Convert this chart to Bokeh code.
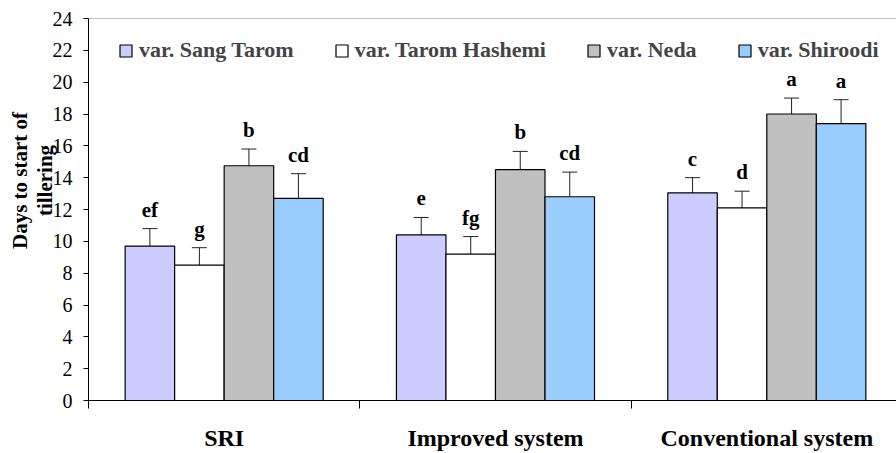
import math
from bokeh.plotting import figure
from bokeh.models import (ColumnDataSource, Range1d, FixedTicker, Whisker, TeeHead,
                          Legend, LegendItem, Label, Span)
from bokeh.core.properties import value
from bokeh.embed import file_html
from bokeh.resources import INLINE

systems = ["SRI", "Improved system", "Conventional system"]
varieties = ["var. Sang Tarom", "var. Tarom Hashemi", "var. Neda", "var. Shiroodi"]
colors = ["#CCCCFF", "#FFFFFF", "#C0C0C0", "#99CCFF"]
y_ticks = [0, 2, 4, 6, 8, 10, 12, 14, 16, 18, 20, 22, 24]

sang_tarom = [9.7, 10.4, 13.05]
sang_tarom_lo = [8.75, 9.45, 12.0]
sang_tarom_hi = [10.8, 11.5, 14.0]
sang_tarom_letters = ["ef", "e", "c"]

tarom_hashemi = [8.5, 9.2, 12.1]
tarom_hashemi_lo = [7.45, 8.1, 10.9]
tarom_hashemi_hi = [9.6, 10.3, 13.15]
tarom_hashemi_letters = ["g", "fg", "d"]

neda = [14.75, 14.5, 18.0]
neda_lo = [13.65, 13.3, 16.9]
neda_hi = [15.8, 15.65, 19.0]
neda_letters = ["b", "b", "a"]

shiroodi = [12.7, 12.8, 17.4]
shiroodi_lo = [11.25, 11.35, 15.8]
shiroodi_hi = [14.25, 14.35, 18.9]
shiroodi_letters = ["cd", "cd", "a"]

series = [
    (sang_tarom, sang_tarom_lo, sang_tarom_hi, sang_tarom_letters),
    (tarom_hashemi, tarom_hashemi_lo, tarom_hashemi_hi, tarom_hashemi_letters),
    (neda, neda_lo, neda_hi, neda_letters),
    (shiroodi, shiroodi_lo, shiroodi_hi, shiroodi_letters),
]

BAR_W = 0.1825
SERIF = "Liberation Serif, Times New Roman, serif"

p = figure(width=896, height=453, x_range=Range1d(0, 2.978), y_range=Range1d(0, 24),
           output_backend="svg", toolbar_location=None,
           min_border_left=88, min_border_right=0, min_border_top=18, min_border_bottom=51)
p.outline_line_color = None
p.xgrid.grid_line_color = None
p.ygrid.grid_line_color = None

# top frame line
p.add_layout(Span(location=24, dimension="width", line_color="#808080", line_width=1))

items = []
for i, (vals, lo, hi, letters) in enumerate(series):
    offset = (i - 1.5) * BAR_W
    xs = [k + 0.5 + offset for k in range(len(systems))]
    src = ColumnDataSource(dict(x=xs, top=vals, lo=lo, hi=hi, letter=letters))
    r = p.vbar(x="x", top="top", width=BAR_W, bottom=0, source=src,
               fill_color=colors[i], line_color="black", line_width=1.2)
    items.append(LegendItem(label=varieties[i], renderers=[r]))
    w = Whisker(base="x", upper="hi", lower="lo", source=src, line_color="#222222",
                line_width=1,
                upper_head=TeeHead(size=15, line_color="#222222", line_width=1),
                lower_head=TeeHead(size=15, line_color="#222222", line_width=1))
    p.add_layout(w)
    p.text(x="x", y="hi", text="letter", source=src, text_align="center",
           text_baseline="alphabetic", y_offset=-19, text_font=value(SERIF),
           text_font_style="bold", text_font_size="21px", text_color="black")

legend = Legend(items=items, orientation="horizontal", location=(30, 337),
                glyph_width=15, glyph_height=15, label_standoff=6, spacing=40,
                padding=0, margin=0, border_line_color=None, background_fill_alpha=0,
                label_text_font=SERIF, label_text_font_style="bold",
                label_text_font_size="22px")
p.add_layout(legend, "center")

# y axis
ya = p.yaxis[0]
ya.ticker = FixedTicker(ticks=y_ticks, minor_ticks=[])
ya.axis_line_color = "black"
ya.major_tick_in = 0
ya.major_tick_out = 5
ya.major_tick_line_color = "black"
ya.minor_tick_line_color = None
ya.major_label_text_font = SERIF
ya.major_label_text_font_size = "20px"
ya.major_label_text_color = "black"
ya.major_label_standoff = 11

# x axis
xa = p.xaxis[0]
xa.ticker = FixedTicker(ticks=[k + 0.5 for k in range(len(systems))],
                        minor_ticks=list(range(len(systems) + 1)))
xa.major_label_overrides = {k + 0.5: s for k, s in enumerate(systems)}
xa.axis_line_color = "black"
xa.major_tick_in = 0
xa.major_tick_out = 0
xa.minor_tick_in = 0
xa.minor_tick_out = 8
xa.minor_tick_line_color = "black"
xa.major_label_text_font = SERIF
xa.major_label_text_font_style = "bold"
xa.major_label_text_font_size = "24px"
xa.major_label_text_color = "black"
xa.major_label_standoff = 16

ylab = Label(x=32, y=220, x_units="screen", y_units="screen",
             text="Days to start of\ntillering", angle=math.pi / 2,
             text_align="center", text_baseline="middle",
             text_font=SERIF, text_font_style="bold", text_font_size="21px",
             text_color="black", text_line_height=1.05)
p.add_layout(ylab, "left")

open("out.html", "w").write(file_html(p, INLINE))
